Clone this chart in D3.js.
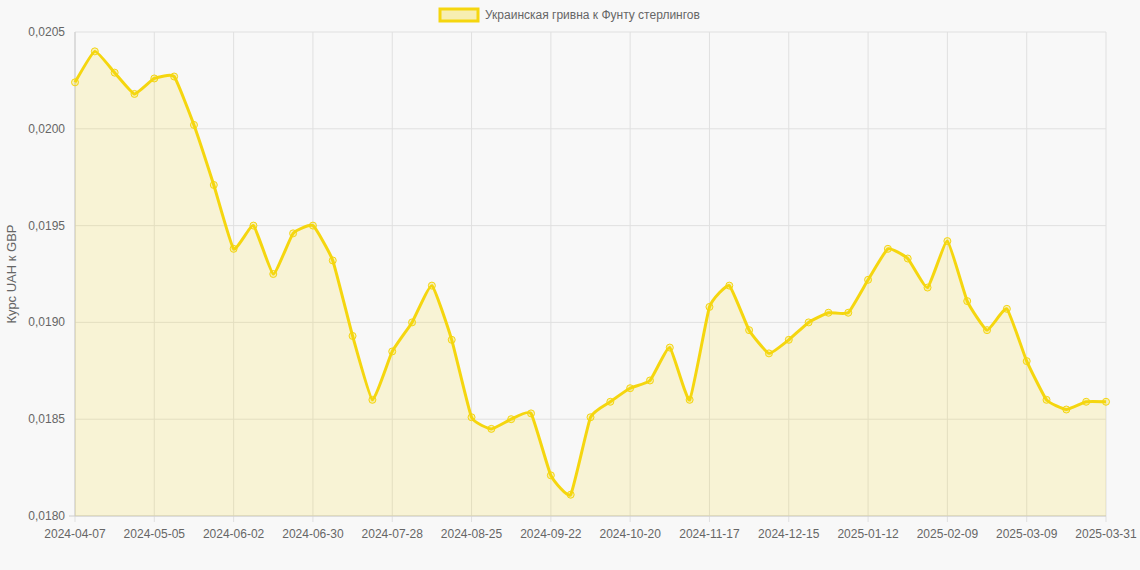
<!DOCTYPE html>
<html><head><meta charset="utf-8">
<script src="https://cdn.jsdelivr.net/npm/d3@7"></script>
<style>body{margin:0;background:#f8f8f8;font-family:"Liberation Sans",Arial,sans-serif}</style>
</head><body><svg id="c" width="1140" height="570"></svg>
<script>
const dates = ["2024-04-07","2024-04-14","2024-04-21","2024-04-28","2024-05-05","2024-05-12","2024-05-19","2024-05-26","2024-06-02","2024-06-09","2024-06-16","2024-06-23","2024-06-30","2024-07-07","2024-07-14","2024-07-21","2024-07-28","2024-08-04","2024-08-11","2024-08-18","2024-08-25","2024-09-01","2024-09-08","2024-09-15","2024-09-22","2024-09-29","2024-10-06","2024-10-13","2024-10-20","2024-10-27","2024-11-03","2024-11-10","2024-11-17","2024-11-24","2024-12-01","2024-12-08","2024-12-15","2024-12-22","2024-12-29","2025-01-05","2025-01-12","2025-01-19","2025-01-26","2025-02-02","2025-02-09","2025-02-16","2025-02-23","2025-03-02","2025-03-09","2025-03-16","2025-03-23","2025-03-28","2025-03-31"];
const values = [0.02024,0.02040,0.02029,0.02018,0.02026,0.02027,0.02002,0.01971,0.01938,0.01950,0.01925,0.01946,0.01950,0.01932,0.01893,0.01860,0.01885,0.01900,0.01919,0.01891,0.01851,0.01845,0.01850,0.01853,0.01821,0.01811,0.01851,0.01859,0.01866,0.01870,0.01887,0.01860,0.01908,0.01919,0.01896,0.01884,0.01891,0.01900,0.01905,0.01905,0.01922,0.01938,0.01933,0.01918,0.01942,0.01911,0.01896,0.01907,0.01880,0.01860,0.01855,0.01859,0.01859];
const yTicks = [0.0180,0.0185,0.0190,0.0195,0.0200,0.0205];
const seriesName = "Украинская гривна к Фунту стерлингов";
const yTitle = "Курс UAH к GBP";

const svg = d3.select("#c");
const L=75,R=1106,T=32,B=516;
const x = d3.scalePoint().domain(dates).range([L,R]);
const y = d3.scaleLinear().domain([0.0180,0.0205]).range([B,T]);
const grid="#e0e0e0", txt="#666", col="#f5d60f";
const shown = dates.filter((d,i)=>i%4===0 || i===dates.length-1);
const curve = d3.curveCardinal.tension(0.6);

svg.append("g").selectAll("line").data(yTicks).join("line")
 .attr("x1",L).attr("x2",R).attr("y1",d=>y(d)).attr("y2",d=>y(d)).attr("stroke",grid);
svg.append("g").selectAll("line").data(shown).join("line")
 .attr("x1",d=>x(d)).attr("x2",d=>x(d)).attr("y1",T).attr("y2",B+6).attr("stroke",grid);
svg.append("line").attr("x1",L).attr("x2",L).attr("y1",T).attr("y2",B).attr("stroke","#ccc");
svg.append("line").attr("x1",L-6).attr("x2",R).attr("y1",B).attr("y2",B).attr("stroke","#ccc");

svg.append("g").selectAll("text").data(yTicks).join("text")
 .attr("x",L-10).attr("y",d=>y(d)+4).attr("text-anchor","end").attr("font-size",12).attr("fill",txt)
 .text(d=>d.toFixed(4).replace(".",","));
svg.append("g").selectAll("text").data(shown).join("text")
 .attr("x",d=>x(d)).attr("y",B+22).attr("text-anchor","middle").attr("font-size",12).attr("fill",txt).text(d=>d);
svg.append("text").attr("transform",`translate(16,${(T+B)/2}) rotate(-90)`).attr("text-anchor","middle")
 .attr("font-size",13).attr("fill",txt).text(yTitle);

const pts = dates.map((d,i)=>[d,values[i]]);
svg.append("path").datum(pts).attr("d",d3.area().x(d=>x(d[0])).y0(B).y1(d=>y(d[1])).curve(curve))
 .attr("fill","rgba(245,214,15,0.15)");
svg.append("path").datum(pts).attr("d",d3.line().x(d=>x(d[0])).y(d=>y(d[1])).curve(curve))
 .attr("fill","none").attr("stroke",col).attr("stroke-width",3);
svg.append("g").selectAll("circle").data(pts).join("circle")
 .attr("cx",d=>x(d[0])).attr("cy",d=>y(d[1])).attr("r",3.5)
 .attr("fill","rgba(245,214,15,0.25)").attr("stroke",col).attr("stroke-width",1);

const lg=svg.append("g");
lg.append("rect").attr("x",440).attr("y",9).attr("width",38).attr("height",12)
 .attr("fill","rgba(245,214,15,0.3)").attr("stroke",col).attr("stroke-width",3);
lg.append("text").attr("x",485).attr("y",19).attr("font-size",12).attr("fill",txt).text(seriesName);
</script></body></html>
